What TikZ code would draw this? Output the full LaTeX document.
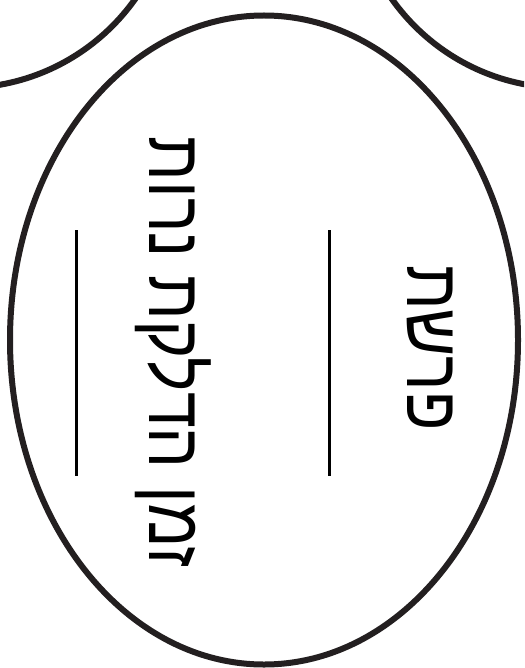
\documentclass[tikz,border=0pt]{standalone}
\usepackage{fontspec}
\newfontfamily\hebfont[Script=Hebrew, FakeStretch=0.85]{Liberation Sans}
\TeXXeTstate=1
\definecolor{outline}{HTML}{231F20}
\tikzset{
  shape line/.style={line width=6pt, draw=outline},
  rule line/.style={line width=3pt, draw=black},
  label text/.style={font=\hebfont\fontsize{76}{80}\selectfont, rotate=-90, inner sep=0pt}
}

\begin{document}
\begin{tikzpicture}[x=1pt,y=-1pt]
    \useasboundingbox (0,0) rectangle (524,668);
    \clip (0,0) rectangle (524,668);

    % Draw the neighbouring shapes at the top corners
    \draw[shape line] (-37,-123) circle[radius=211];
    \draw[shape line] (564,-123) circle[radius=211];

    % Draw the main oval
    \draw[shape line] (264,340) ellipse[x radius=254, y radius=324.5];

    % Draw the writing lines
    \coordinate (left top) at (76,230);
    \coordinate (left bottom) at (76,476);
    \coordinate (right top) at (329,230);
    \coordinate (right bottom) at (329,476);
    \draw[rule line] (left top) -- (left bottom);
    \draw[rule line] (right top) -- (right bottom);

    % Add the labels
    \node[label text] (candles) at (173,352) {\beginR זמן הדלקת נרות\endR};
    \node[label text] (parasha) at (430,348) {\beginR פרשת\endR};
\end{tikzpicture}
\end{document}
